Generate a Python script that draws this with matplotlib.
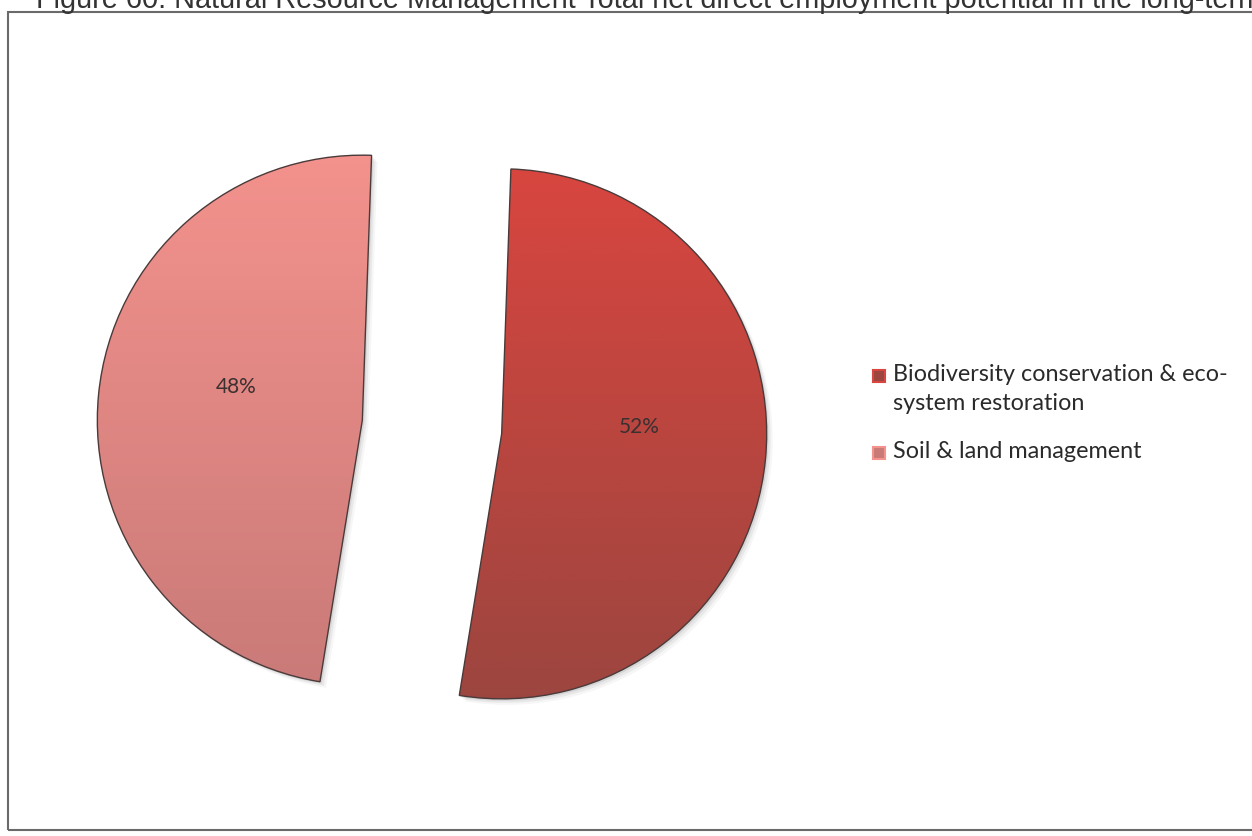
import numpy as np
import matplotlib.pyplot as plt
from matplotlib.patches import Rectangle, Wedge
from matplotlib.colors import LinearSegmentedColormap

# Natural Resource Management: share of long-term net direct employment
categories = ['Biodiversity conservation & eco-\nsystem restoration', 'Soil & land management']
shares = [52, 48]
title = 'Figure 60: Natural Resource Management Total net direct employment potential in the long-term'

top_colors = ['#d9453f', '#f4928d']
bottom_colors = ['#9c463f', '#c97a78']

W, H = 1252, 836
fig = plt.figure(figsize=(W / 100, H / 100), dpi=100)
ax = fig.add_axes([0, 0, 1, 1])

R = 265
cx, cy = 432, H - 427
gap = 70  # explode is in data units here, not a fraction
wedges, texts, autotexts = ax.pie(
    shares, explode=[gap, gap], startangle=88, counterclock=False,
    radius=R, center=(cx, cy), colors=['none', 'none'],
    autopct=lambda p: f'{p:.0f}%', pctdistance=0.5,
    wedgeprops=dict(edgecolor='#4a3a3a', linewidth=1.0),
    textprops=dict(family='Lato', fontsize=15, color='#3a3030'))

# soft shadow and vertical gradient fill for each slice
for w, c0, c1 in zip(wedges, top_colors, bottom_colors):
    for k, a in [(6, 0.05), (4, 0.08), (2, 0.12)]:
        sh = Wedge((w.center[0] + k, w.center[1] - k), w.r, w.theta1, w.theta2,
                   facecolor='#505050', edgecolor='none', alpha=a, zorder=0)
        ax.add_patch(sh)
    x0, y0 = w.center[0] - R - 5, w.center[1] - R - 5
    x1, y1 = w.center[0] + R + 5, w.center[1] + R + 5
    cmap = LinearSegmentedColormap.from_list('g', [c1, c0])
    grad = np.linspace(0, 1, 256).reshape(-1, 1)
    im = ax.imshow(grad, cmap=cmap, extent=(x0, x1, y0, y1), origin='lower',
                   aspect='auto', zorder=1)
    im.set_clip_path(w)
    w.set_zorder(2)

# labels sit a little higher than the slice midline
for t in autotexts:
    x, y = t.get_position()
    t.set_position((x + 6, y + 20))
    t.set_zorder(3)

ax.set_xlim(0, W)
ax.set_ylim(0, H)
ax.set_aspect('equal')
ax.axis('off')

# chart frame, running off the right edge
ax.add_patch(Rectangle((8, H - 830), W + 20, 818, facecolor='none',
                       edgecolor='#6a6a6a', linewidth=1.5, zorder=0))

# legend
leg_y = [H - 376, H - 453]
for y, c0, c1, lab in zip(leg_y, top_colors, bottom_colors, categories):
    ax.add_patch(Rectangle((873, y - 6), 12, 12, facecolor=c1, edgecolor=c0,
                           linewidth=1.5, zorder=3))
    ax.text(893, y + 12, lab, family='Lato', fontsize=16.8, color='#2a2a2a',
            va='top', ha='left', linespacing=1.45)

fig.text(36 / W, (H - 8) / H, title, family='Liberation Sans', fontsize=20.8,
         color='#333333', va='baseline', ha='left')

fig.savefig('out.png', dpi=100)
